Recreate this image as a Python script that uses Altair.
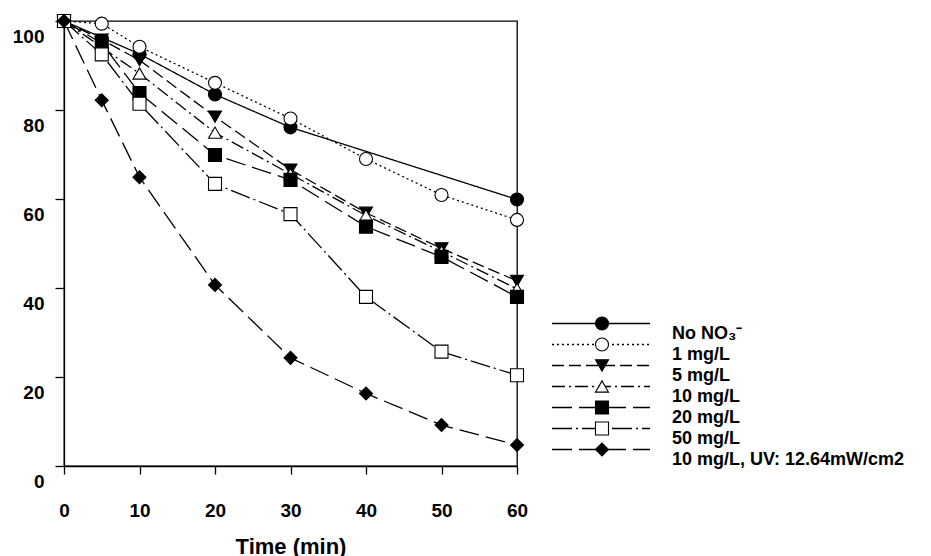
import altair as alt
import pandas as pd

# ---- data ----
series = ["No NO₃⁻", "1 mg/L", "5 mg/L", "10 mg/L", "20 mg/L", "50 mg/L",
          "10 mg/L, UV: 12.64mW/cm2"]
codes = ["s1", "s2", "s3", "s4", "s5", "s6", "s7"]
labels = [s + "\u200b" for s in series]   # same visible text, separate legend domain

t_no_no3 = [0, 10, 20, 30, 60]
v_no_no3 = [100, 92.6, 83.5, 76.1, 59.9]

t_1 = [0, 5, 10, 20, 30, 40, 50, 60]
v_1 = [100, 99.4, 94.2, 86.1, 78.1, 69.0, 60.9, 55.3]

t_5 = [0, 5, 10, 20, 30, 40, 50, 60]
v_5 = [100, 95.8, 91.2, 78.5, 66.6, 56.9, 48.9, 41.6]

t_10 = [0, 10, 20, 30, 40, 50, 60]
v_10 = [100, 88.2, 74.9, 65.6, 56.3, 48.2, 39.8]

t_20 = [0, 5, 10, 20, 30, 40, 50, 60]
v_20 = [100, 95.0, 83.8, 69.9, 64.3, 53.8, 47.0, 38.0]

t_50 = [0, 5, 10, 20, 30, 40, 50, 60]
v_50 = [100, 92.5, 81.4, 63.4, 56.6, 38.0, 25.7, 20.4]

t_uv = [0, 5, 10, 20, 30, 40, 50, 60]
v_uv = [100, 82.2, 64.9, 40.7, 24.3, 16.3, 9.2, 4.7]

x_ticks = [0, 10, 20, 30, 40, 50, 60]
y_ticks = [0, 20, 40, 60, 80, 100]

# ---- styles ----
shapes = ["circle", "circle", "triangle-down", "triangle-up", "square", "square", "diamond"]
fills = ["black", "white", "black", "white", "black", "white", "black"]
strokes = ["black"] * 7
sizes = [169, 169, 180, 180, 144, 144, 240]
dashes = [[1, 0], [2, 3], [12, 5], [13, 4, 2, 4], [20, 7], [20, 4, 2, 4], [20, 7]]
opac = [1] * 7

rows = []
for name, code, lab, ts, vs in zip(series, codes, labels,
                                   [t_no_no3, t_1, t_5, t_10, t_20, t_50, t_uv],
                                   [v_no_no3, v_1, v_5, v_10, v_20, v_50, v_uv]):
    for t, v in zip(ts, vs):
        rows.append({"series": name, "code": code, "label": lab, "t": t, "v": v})
df = pd.DataFrame(rows)

FONT = "Liberation Sans"
ROW_H = 21
LEG_Y = 292

x_enc = alt.X("t:Q", title="Time (min)",
              scale=alt.Scale(domain=[0, 60], nice=False),
              axis=alt.Axis(values=x_ticks, grid=False, tickSize=8, labelPadding=27,
                            labelFontSize=19, labelFont=FONT, labelFontWeight="bold",
                            titleFontSize=22, titleFont=FONT, titleFontWeight="bold",
                            titlePadding=16, labelFlush=False))
y_enc = alt.Y("v:Q", title=None,
              scale=alt.Scale(domain=[0, 100], nice=False),
              axis=alt.Axis(values=y_ticks, grid=False, tickSize=9, labelPadding=11,
                            labelOffset=15, labelFontSize=19, labelFont=FONT,
                            labelFontWeight="bold", labelFlush=False))

# legend 1: dashed line samples (no labels)
dash_legend = alt.Legend(orient="none", legendX=487, legendY=LEG_Y, padding=0, columns=1,
                         symbolType="stroke", symbolSize=9604, symbolStrokeWidth=1.3,
                         symbolStrokeColor="black", symbolOpacity=1,
                         labelExpr="''", labelFontSize=18, labelBaseline="middle",
                         clipHeight=ROW_H, rowPadding=0, zindex=0)

# legend 2: markers centred on the line samples (no labels)
marker_legend = alt.Legend(orient="none", legendX=529, legendY=LEG_Y, padding=0, columns=1,
                           symbolStrokeWidth=1.1, symbolStrokeColor="black", symbolOpacity=1,
                           labelExpr="''", labelFontSize=18, labelBaseline="middle",
                           clipHeight=ROW_H, rowPadding=0, zindex=1)

# legend 3: the label texts, sitting a little lower than the samples
label_legend = alt.Legend(orient="none", legendX=590, legendY=LEG_Y + 10, padding=0,
                          columns=1, symbolSize=0, symbolOpacity=0,
                          labelFont=FONT, labelFontSize=18, labelFontWeight="bold",
                          labelColor="black", labelOffset=0, labelBaseline="middle",
                          clipHeight=ROW_H, rowPadding=0, labelLimit=400, zindex=2)

lines = alt.Chart(df).mark_line(color="black", strokeWidth=1.3).encode(
    x=x_enc, y=y_enc,
    strokeDash=alt.StrokeDash("series:N", title=None,
                              scale=alt.Scale(domain=series, range=dashes),
                              legend=dash_legend),
    opacity=alt.Opacity("label:N", title=None,
                        scale=alt.Scale(domain=labels, range=opac),
                        legend=label_legend),
    detail="series:N",
)

points = alt.Chart(df).mark_point(filled=True, strokeWidth=1.1, opacity=1).encode(
    x="t:Q", y="v:Q",
    shape=alt.Shape("code:N", title=None, scale=alt.Scale(domain=codes, range=shapes),
                    legend=marker_legend),
    fill=alt.Fill("code:N", title=None, scale=alt.Scale(domain=codes, range=fills),
                  legend=marker_legend),
    stroke=alt.Stroke("code:N", title=None, scale=alt.Scale(domain=codes, range=strokes),
                      legend=marker_legend),
    size=alt.Size("code:N", title=None, scale=alt.Scale(domain=codes, range=sizes),
                  legend=marker_legend),
)

chart = alt.layer(lines, points).properties(
    width=453, height=445,
    autosize=alt.AutoSizeParams(type="none"),
    padding={"left": 56, "top": 13, "right": 406, "bottom": 90},
).configure_view(stroke="black", strokeWidth=1.3).configure_axis(
    domainColor="black", domainWidth=1.3, tickColor="black", tickWidth=1.3,
    labelColor="black", titleColor="black"
)

chart.save("out.html", embed_options={"renderer": "svg", "actions": False})
